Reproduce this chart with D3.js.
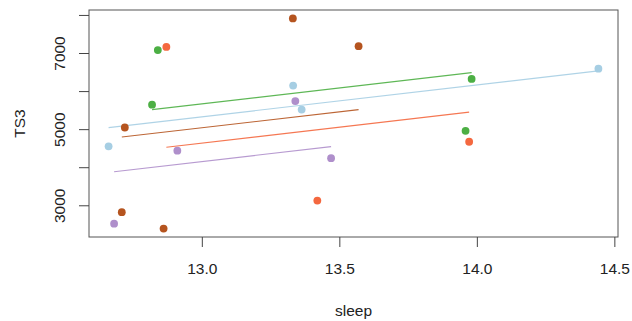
<!DOCTYPE html>
<html>
<head>
<meta charset="utf-8">
<script src="https://cdn.jsdelivr.net/npm/d3@7"></script>
<style>
  body { margin: 0; background: #fff; }
  text { font-family: "Liberation Sans", Arial, sans-serif; fill: #222; }
</style>
</head>
<body>
<svg id="chart" width="632" height="321"></svg>
<script>
// groups and their colours
const groups = ['g1', 'g2', 'g3', 'g4', 'g5'];
const groupColors = ['#b5541f', '#f4683f', '#4caf44', '#a6cee3', '#af8fcb'];

// observations: sleep (x), TS3 (y), group
const sleep = [12.720, 12.709, 12.861, 13.331, 13.570,
               12.871, 13.420, 13.972,
               12.840, 12.819, 13.959, 13.981,
               12.661, 13.332, 13.363, 14.442,
               12.681, 12.911, 13.340, 13.470];
const ts3 = [5057, 2833, 2401, 7922, 7193,
             7174, 3138, 4682,
             7089, 5656, 4969, 6333,
             4563, 6159, 5526, 6602,
             2531, 4448, 5750, 4250];
const group = ['g1', 'g1', 'g1', 'g1', 'g1',
               'g2', 'g2', 'g2',
               'g3', 'g3', 'g3', 'g3',
               'g4', 'g4', 'g4', 'g4',
               'g5', 'g5', 'g5', 'g5'];

const xTicks = [13.0, 13.5, 14.0, 14.5];
const yTicks = [3000, 4000, 5000, 6000, 7000, 8000];
const yLabels = [3000, 5000, 7000];

const data = sleep.map((s, i) => ({ x: s, y: ts3[i], g: group[i] }));

const margin = { top: 10, right: 14, bottom: 84, left: 89 };
const W = 632, H = 321;
const svg = d3.select('#chart');

// R-style 4% padding
function pad(ext) {
  const d = (ext[1] - ext[0]) * 0.04;
  return [ext[0] - d, ext[1] + d];
}
const x = d3.scaleLinear()
  .domain(pad(d3.extent(data, d => d.x)))
  .range([margin.left, W - margin.right]);
const y = d3.scaleLinear()
  .domain(pad(d3.extent(data, d => d.y)))
  .range([H - margin.bottom, margin.top]);

const color = d3.scaleOrdinal().domain(groups).range(groupColors);

// common slope, separate intercepts
const byGroup = d3.group(data, d => d.g);
let sxy = 0, sxx = 0;
const means = new Map();
byGroup.forEach((rows, g) => {
  const mx = d3.mean(rows, d => d.x), my = d3.mean(rows, d => d.y);
  means.set(g, { mx, my });
  rows.forEach(d => { sxy += (d.x - mx) * (d.y - my); sxx += (d.x - mx) ** 2; });
});
const slope = sxy / sxx;

const fits = groups.map(g => {
  const rows = byGroup.get(g);
  const m = means.get(g);
  const ext = d3.extent(rows, d => d.x);
  return { g, pts: ext.map(v => ({ x: v, y: m.my + slope * (v - m.mx) })) };
});

const line = d3.line().x(d => x(d.x)).y(d => y(d.y));
svg.append('g').selectAll('path')
  .data(fits)
  .enter().append('path')
  .attr('d', d => line(d.pts))
  .attr('fill', 'none')
  .attr('stroke', d => color(d.g))
  .attr('stroke-opacity', 0.9)
  .attr('stroke-width', 1.1);

svg.append('g').selectAll('circle')
  .data(data)
  .enter().append('circle')
  .attr('cx', d => x(d.x))
  .attr('cy', d => y(d.y))
  .attr('r', 3.9)
  .attr('fill', d => color(d.g));

// box
svg.append('rect')
  .attr('x', margin.left).attr('y', margin.top)
  .attr('width', W - margin.left - margin.right)
  .attr('height', H - margin.top - margin.bottom)
  .attr('fill', 'none').attr('stroke', '#555').attr('stroke-width', 1);

// axes
const xAxis = svg.append('g')
  .attr('transform', `translate(0,${H - margin.bottom})`)
  .call(d3.axisBottom(x).tickValues(xTicks).tickSize(10).tickPadding(16).tickFormat(d3.format('.1f')));
xAxis.select('.domain').remove();
xAxis.selectAll('line').attr('stroke', '#444');
xAxis.selectAll('text').attr('font-size', '15.5px').attr('fill', '#222');

const yAxis = svg.append('g')
  .attr('transform', `translate(${margin.left},0)`)
  .call(d3.axisLeft(y).tickValues(yTicks).tickSize(10).tickFormat(d => yLabels.includes(d) ? d : ''));
yAxis.select('.domain').remove();
yAxis.selectAll('line').attr('stroke', '#444');
yAxis.selectAll('text')
  .attr('font-size', '15.5px').attr('fill', '#222')
  .attr('text-anchor', 'middle')
  .attr('dy', 0)
  .attr('x', 0)
  .attr('transform', d => `translate(-24,${y(d)}) rotate(-90)`)
  .attr('y', 0);
yAxis.selectAll('.tick').attr('transform', null);
yAxis.selectAll('.tick line').attr('transform', d => `translate(0,${y(d)})`);

svg.append('text')
  .attr('x', (margin.left + W - margin.right) / 2)
  .attr('y', 316)
  .attr('text-anchor', 'middle')
  .attr('font-size', '15.5px')
  .text('sleep');

svg.append('text')
  .attr('transform', `translate(25,${(margin.top + H - margin.bottom) / 2}) rotate(-90)`)
  .attr('text-anchor', 'middle')
  .attr('font-size', '15.5px')
  .text('TS3');
</script>
</body>
</html>
